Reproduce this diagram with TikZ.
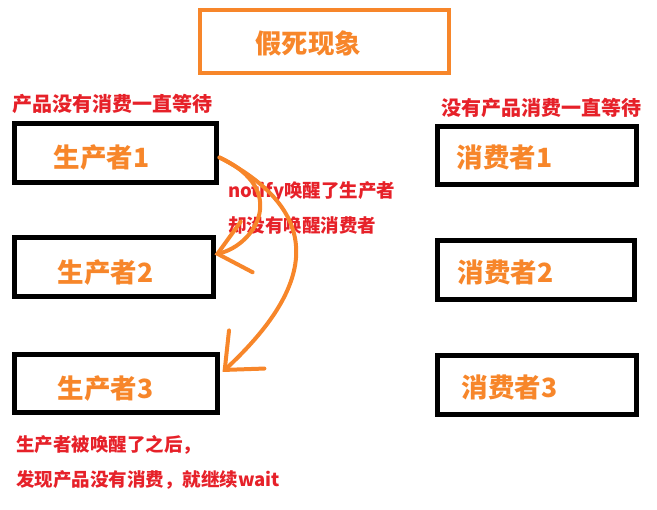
\documentclass[tikz,border=0pt]{standalone}
\usepackage{fontspec}
\newfontfamily\cjk{Noto Sans CJK SC}
\usetikzlibrary{arrows.meta}
\definecolor{deadOrange}{HTML}{F7862A}
\definecolor{noteRed}{HTML}{E62129}
\begin{document}
\begin{tikzpicture}[x=1pt, y=-1pt]

	% Styles for boxes and texts
	\tikzset{
		titleBox/.style={draw=deadOrange, line width=4pt, minimum width=249pt, minimum height=63pt, inner sep=0pt},
		roleBox/.style={draw=black, line width=5pt, minimum width=200pt, minimum height=59pt, inner sep=0pt},
		roleText/.style={text=deadOrange, font=\cjk\bfseries\fontsize{26.5}{30}\selectfont, anchor=west, inner sep=0pt},
		noteText/.style={text=noteRed, font=\cjk\bfseries\fontsize{18.5}{22}\selectfont, anchor=west, inner sep=0pt},
		wakeArrow/.style={draw=deadOrange, line width=4pt, line cap=round,
			-{Straight Barb[length=30pt, width=52pt, line cap=round]}}
	}

	% Fix the page size
	\useasboundingbox (0,0) rectangle (657,510);

	% Title
	\node[titleBox] (title) at (324.5,41.5) {};
	\node[roleText, anchor=center] (titleText) at (308,43) {假死现象};

	% Producers (left column)
	\node[roleBox, minimum width=202pt] (p1) at (115,153.5) {};
	\node[roleBox, minimum width=199pt] (p2) at (113.5,267.5) {};
	\node[roleBox, minimum width=203pt, minimum height=58pt] (p3) at (115.5,384) {};
	\node[roleText] (p1Text) at ([xshift=42pt, yshift=-4pt]p1.west) {生产者1};
	\node[roleText] (p2Text) at ([xshift=46pt, yshift=-5pt]p2.west) {生产者2};
	\node[roleText] (p3Text) at ([xshift=46pt, yshift=-5pt]p3.west) {生产者3};

	% Consumers (right column)
	\node[roleBox, minimum width=199pt, minimum height=58pt] (c1) at (536.5,156) {};
	\node[roleBox, minimum width=197pt] (c2) at (535.5,270.5) {};
	\node[roleBox, minimum width=199pt] (c3) at (536.5,385.5) {};
	\node[roleText] (c1Text) at ([xshift=22pt, yshift=-1pt]c1.west) {消费者1};
	\node[roleText] (c2Text) at ([xshift=23pt, yshift=-2pt]c2.west) {消费者2};
	\node[roleText] (c3Text) at ([xshift=27pt, yshift=-2pt]c3.west) {消费者3};

	% Red notes
	\node[noteText, font=\cjk\bfseries\fontsize{20}{24}\selectfont] (pWait) at (12,104) {产品没有消费一直等待};
	\node[noteText, font=\cjk\bfseries\fontsize{20}{24}\selectfont] (cWait) at (441,108) {没有产品消费一直等待};
	\node[noteText] (notify1) at (228,192) {notify唤醒了生产者};
	\node[noteText] (notify2) at (228,225) {却没有唤醒消费者};
	\node[noteText] (after1) at (16,445) {生产者被唤醒了之后，};
	\node[noteText] (after2) at (16,480) {发现产品没有消费，就继续wait};

	% Wake-up arrows from producer 1
	\coordinate (wakeFrom) at ([xshift=1pt, yshift=-4pt]p1.east);
	\coordinate (wakeTo2) at ([xshift=-1pt, yshift=13pt]p2.east);
	\coordinate (wakeTo3) at ([xshift=3pt, yshift=12pt]p3.east);
	\draw[wakeArrow] (wakeFrom) .. controls (290,190) and (255,245) .. (wakeTo2);
	\draw[wakeArrow] (wakeFrom) .. controls (340,220) and (300,300) .. (wakeTo3);

\end{tikzpicture}
\end{document}
